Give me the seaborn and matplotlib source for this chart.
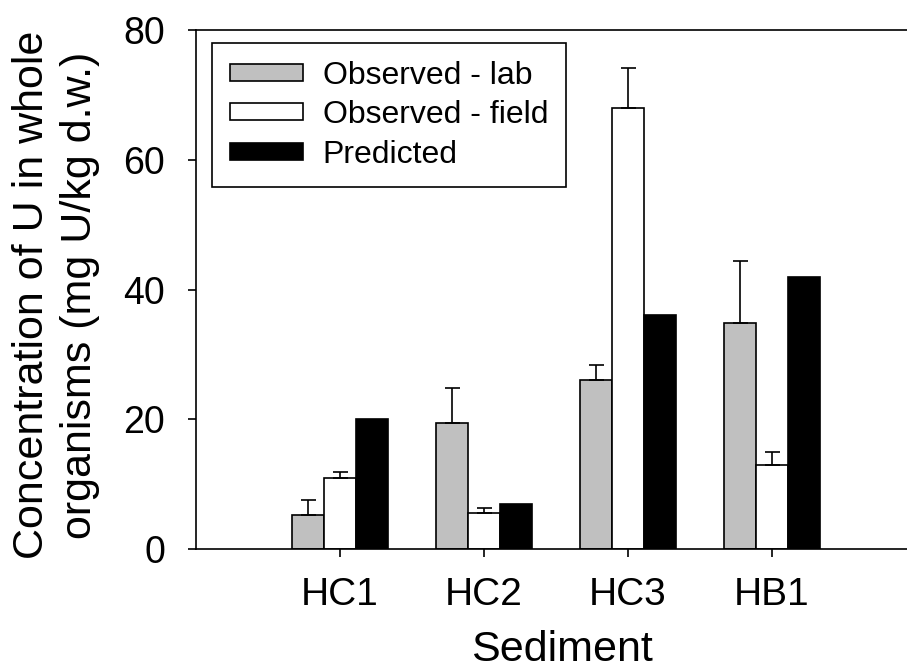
import matplotlib
matplotlib.use("Agg")
import matplotlib.pyplot as plt
import seaborn as sns
import pandas as pd
import numpy as np

sediments = ["HC1", "HC2", "HC3", "HB1"]
series = ["Observed - lab", "Observed - field", "Predicted"]
lab = [5.3, 19.4, 26.1, 34.8]
lab_err = [2.2, 5.4, 2.2, 9.6]
field = [11.0, 5.6, 68.0, 12.9]
field_err = [0.85, 0.75, 6.2, 2.0]
predicted = [20.0, 7.0, 36.0, 42.0]
colors = ["#C0C0C0", "#FFFFFF", "#000000"]
yticks = [0, 20, 40, 60, 80]

sns.set_style("ticks")
plt.rcParams["font.family"] = ["Liberation Sans", "DejaVu Sans"]
for k in ["text.color", "axes.labelcolor", "xtick.color", "ytick.color", "axes.edgecolor"]:
    plt.rcParams[k] = "black"

rows = []
for s, vals in zip(series, [lab, field, predicted]):
    for sed, v in zip(sediments, vals):
        rows.append({"Sediment": sed, "Series": s, "Value": v})
df = pd.DataFrame(rows)

W, H = 907, 671
fig = plt.figure(figsize=(W/100, H/100), dpi=100)
ax = fig.add_axes([196/W, 1-549/H, (907-196)/W, (549-30)/H])

sns.barplot(data=df, x="Sediment", y="Value", hue="Series", order=sediments,
            hue_order=series, palette=colors, width=0.671, errorbar=None,
            edgecolor="black", linewidth=1.2, ax=ax, saturation=1)

# error bars (upward only) placed on the library's bars
n = len(sediments)
patches = list(ax.patches)[:3*n]
for si, errs in [(0, lab_err), (1, field_err)]:
    for ci in range(n):
        p = patches[si*n + ci]
        xc = p.get_x() + p.get_width()/2
        h = p.get_height()
        ax.errorbar(xc, h, yerr=[[0], [errs[ci]]], fmt="none", ecolor="black",
                    elinewidth=1.2, capsize=5.4, capthick=1.2, zorder=1)

ax.set_xlim(-1.0, 3.9375)
ax.set_ylim(0, 80)
ax.set_yticks(yticks)
ax.set_xticks(range(n))
ax.set_xticklabels(sediments)
ax.tick_params(axis="both", direction="out", width=1.2, colors="black")
ax.tick_params(axis="x", length=5.5, pad=15, labelsize=28)
ax.tick_params(axis="y", length=5.8, pad=16.5, labelsize=27)
for sp in ["left", "bottom", "top"]:
    ax.spines[sp].set_linewidth(1.2)
    ax.spines[sp].set_color("black")
ax.spines["right"].set_visible(False)

ax.set_xlabel("Sediment", fontsize=31)
ax.xaxis.set_label_coords((562-196)/711, -(667-549)/519, transform=None) if False else None
ax.xaxis.set_label_coords((562-196)/711, -(670-549)/519)
ax.xaxis.label.set_va("bottom")
ax.set_ylabel("Concentration of U in whole\norganisms (mg U/kg d.w.)", fontsize=31,
              linespacing=1.25)
ax.yaxis.set_label_coords(-(196-56)/711, (549-295)/519)
ax.yaxis.label.set_va("center")

leg = ax.legend(loc="upper left", bbox_to_anchor=((212-196)/711, 1-(43-30)/519), borderaxespad=0,
                fontsize=23, frameon=True, fancybox=False, edgecolor="black",
                handlelength=2.29, handleheight=0.44, handletextpad=0.63,
                labelspacing=0.3, borderpad=0.55)
leg.get_frame().set_linewidth(1.2)
leg.get_frame().set_alpha(1)

fig.savefig("out.png", dpi=100)
